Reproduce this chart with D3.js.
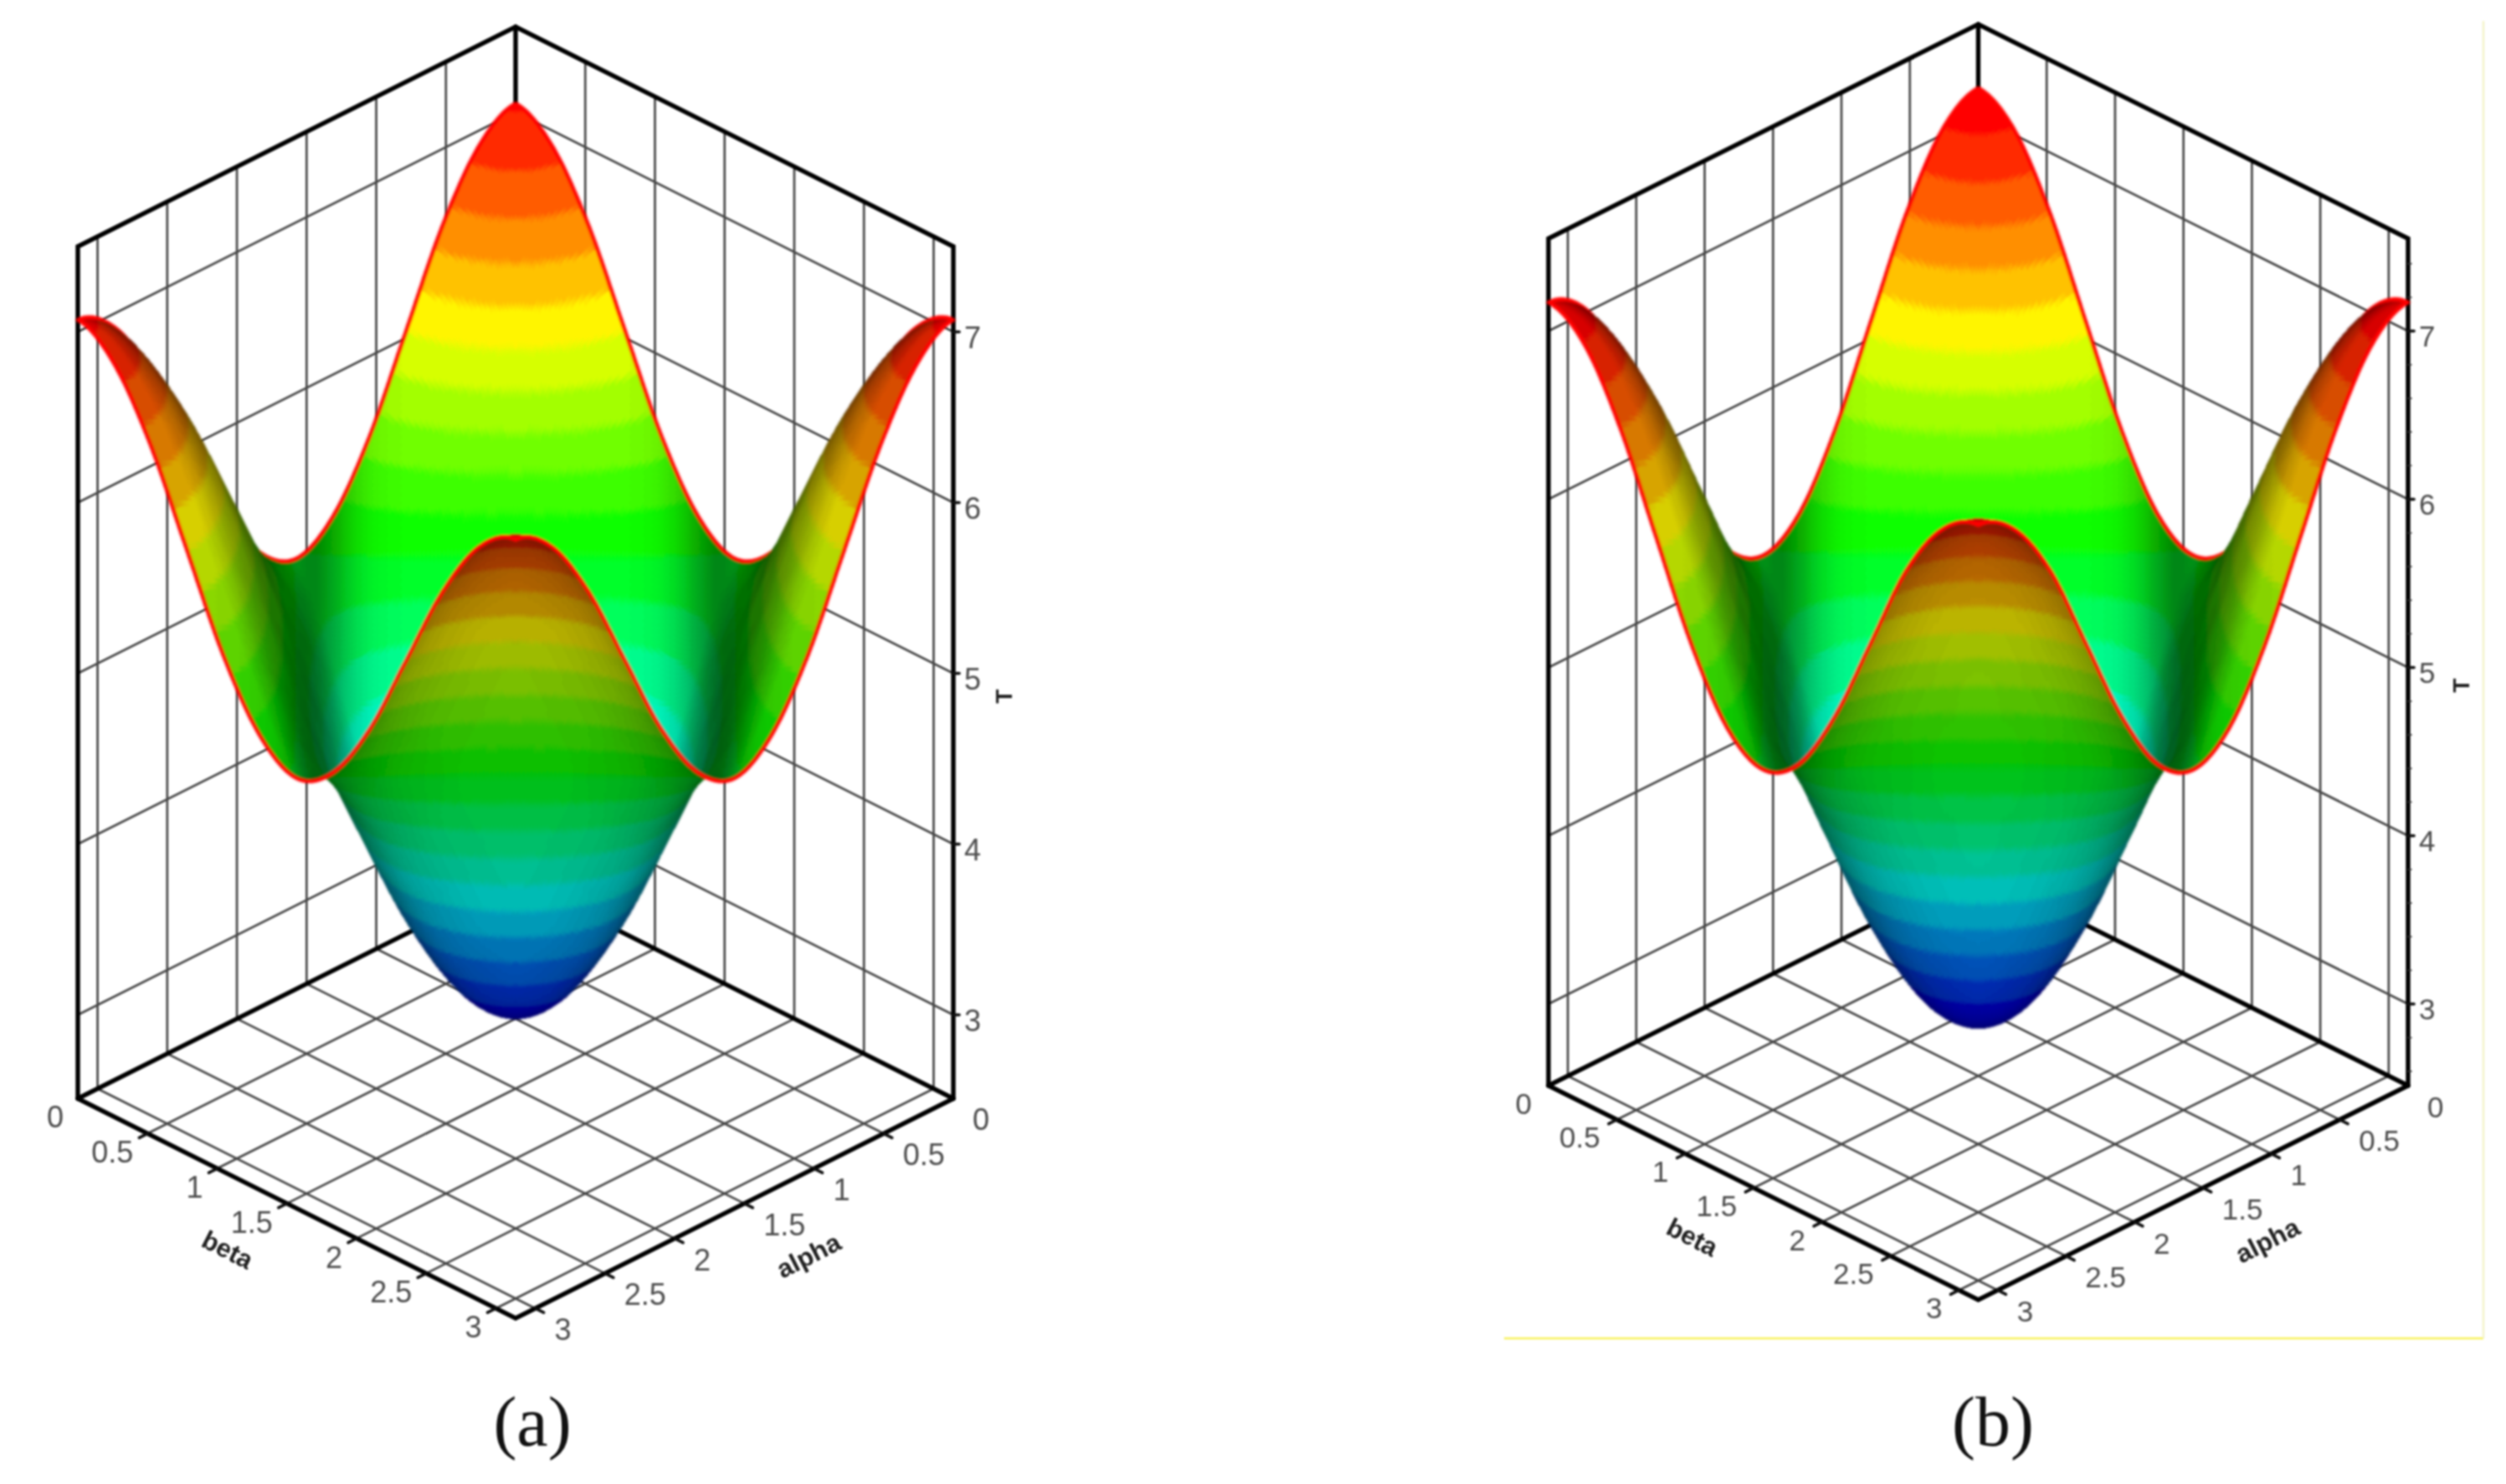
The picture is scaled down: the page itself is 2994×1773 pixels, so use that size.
<!DOCTYPE html>
<html><head><meta charset="utf-8">
<script src="https://cdn.jsdelivr.net/npm/d3@7"></script>
<style>
html,body{margin:0;padding:0;background:#fff;}
svg{display:block;filter:blur(1.1px);}
text{font-family:"Liberation Sans",Arial,sans-serif;}
</style></head><body>
<script>
// T(alpha, beta), on a 13 x 13 lattice with steps of pi/12
const tGridA = [
[7.05,6.91,6.55,6.04,5.53,5.17,5.03,5.17,5.53,6.04,6.55,6.92,7.07],
[6.91,6.77,6.41,5.90,5.39,5.03,4.89,5.03,5.39,5.90,6.41,6.77,6.92],
[6.55,6.41,6.05,5.54,5.03,4.67,4.53,4.67,5.03,5.54,6.05,6.41,6.55],
[6.04,5.90,5.54,5.03,4.52,4.16,4.02,4.16,4.52,5.03,5.54,5.90,6.04],
[5.53,5.39,5.03,4.52,4.01,3.65,3.51,3.65,4.01,4.52,5.03,5.39,5.53],
[5.17,5.03,4.67,4.16,3.65,3.29,3.15,3.29,3.65,4.16,4.67,5.03,5.17],
[5.03,4.89,4.53,4.02,3.51,3.15,3.01,3.15,3.51,4.02,4.53,4.89,5.03],
[5.17,5.03,4.67,4.16,3.65,3.29,3.15,3.29,3.65,4.16,4.67,5.03,5.17],
[5.53,5.39,5.03,4.52,4.01,3.65,3.51,3.65,4.01,4.52,5.03,5.39,5.53],
[6.04,5.90,5.54,5.03,4.52,4.16,4.02,4.16,4.52,5.03,5.54,5.90,6.04],
[6.55,6.41,6.05,5.54,5.03,4.67,4.53,4.67,5.03,5.54,6.05,6.41,6.55],
[6.92,6.77,6.41,5.90,5.39,5.03,4.89,5.03,5.39,5.90,6.41,6.77,6.92],
[7.07,6.92,6.55,6.04,5.53,5.17,5.03,5.17,5.53,6.04,6.55,6.92,7.07]];
const tGridB = [
[7.17,7.03,6.64,6.10,5.56,5.17,5.03,5.17,5.56,6.10,6.64,7.03,7.17],
[7.03,6.89,6.50,5.96,5.42,5.03,4.89,5.03,5.42,5.96,6.50,6.89,7.03],
[6.64,6.50,6.11,5.57,5.03,4.64,4.50,4.64,5.03,5.57,6.11,6.50,6.64],
[6.10,5.96,5.57,5.03,4.49,4.10,3.96,4.10,4.49,5.03,5.57,5.96,6.10],
[5.56,5.42,5.03,4.49,3.95,3.56,3.42,3.56,3.95,4.49,5.03,5.42,5.56],
[5.17,5.03,4.64,4.10,3.56,3.17,3.03,3.17,3.56,4.10,4.64,5.03,5.17],
[5.03,4.89,4.50,3.96,3.42,3.03,2.89,3.03,3.42,3.96,4.50,4.89,5.03],
[5.17,5.03,4.64,4.10,3.56,3.17,3.03,3.17,3.56,4.10,4.64,5.03,5.17],
[5.56,5.42,5.03,4.49,3.95,3.56,3.42,3.56,3.95,4.49,5.03,5.42,5.56],
[6.10,5.96,5.57,5.03,4.49,4.10,3.96,4.10,4.49,5.03,5.57,5.96,6.10],
[6.64,6.50,6.11,5.57,5.03,4.64,4.50,4.64,5.03,5.57,6.11,6.50,6.64],
[7.03,6.89,6.50,5.96,5.42,5.03,4.89,5.03,5.42,5.96,6.50,6.87,6.99],
[7.17,7.03,6.64,6.10,5.56,5.17,5.03,5.17,5.56,6.10,6.64,6.99,7.12]];
const planeTicks = [0.5,1,1.5,2,2.5,3];
const planeLabels = ["0.5","1","1.5","2","2.5","3"];
const tTicks = [3,4,5,6,7];
const tMinorB = [2.6,2.8,3.2,3.4,3.6,3.8,4.2,4.4,4.6,4.8,5.2,5.4,5.6,5.8,6.2,6.4,6.6,6.8,7.2,7.4];
const colourStops = [3.1,4.1,5.1,6.1,7.1];
const colourNames = ["#0000ff","#00ffff","#00ff00","#ffff00","#ff0000"];
const bandStart = 3.04, bandStep = 0.2;
const PI = Math.PI;

const panelA = {grid:tGridA,left:93,right:1139,backY:1050,frontY:1575,tFloor:2.51,tTop:7.5,unit:204,
  caption:"(a)",capX:636,
  betaLab:[272,1493],alphaLab:[966,1500],tLab:[1199,832],minor:[],lab:{bdx:-17,bdy:22,adx:23,ady:25,size:36}};
const panelB = {grid:tGridB,left:1850,right:2877,backY:1041,frontY:1553,tFloor:2.515,tTop:7.55,unit:201,
  caption:"(b)",capX:2381,
  betaLab:[2022,1478],alphaLab:[2709,1482],tLab:[2940,819],minor:tMinorB,lab:{bdx:-20,bdy:21,adx:23,ady:25,size:35}};

const svg = d3.select("body").append("svg").attr("width",2994).attr("height",1773)
  .attr("viewBox","0 0 2994 1773");
svg.append("rect").attr("width",2994).attr("height",1773).attr("fill","#fff");
svg.append("defs").append("filter").attr("id","soft")
  .attr("filterUnits","userSpaceOnUse").attr("x",0).attr("y",0).attr("width",2994).attr("height",1773)
  .append("feGaussianBlur").attr("stdDeviation",1.2);

const colourScale = d3.scaleLinear().domain(colourStops).range(colourNames).clamp(true);
const bandColour = new Map();
function baseColour(b){
  if(!bandColour.has(b)) bandColour.set(b,d3.rgb(colourScale(bandStart+(b+0.5)*bandStep)));
  return bandColour.get(b);
}
const clamp01=v=>v<0?0:(v>1?1:v);
const smooth=(a,b,v)=>{const t=clamp01((v-a)/(b-a));return t*t*(3-2*t);};

// Catmull-Rom resampling of the lattice, used only for a smooth drawing of the surface
function cr(p0,p1,p2,p3,u){
  return 0.5*((2*p1)+(-p0+p2)*u+(2*p0-5*p1+4*p2-p3)*u*u+(-p0+3*p1-3*p2+p3)*u*u*u);
}
function sampler(g){
  const m=g.length-1;
  const mir=k=>k<0?-k:(k>m?2*m-k:k);
  return (a,b)=>{
    const fa=a/PI*m, fb=b/PI*m;
    const ia=Math.min(m-1,Math.floor(fa)), ib=Math.min(m-1,Math.floor(fb));
    const ua=fa-ia, ub=fb-ib, r=[];
    for(let k=-1;k<=2;k++){
      const row=g[mir(ia+k)];
      r.push(cr(row[mir(ib-1)],row[mir(ib)],row[mir(ib+1)],row[mir(ib+2)],ub));
    }
    return cr(r[0],r[1],r[2],r[3],ua);
  };
}

function drawPanel(P){
  const g = svg.append("g");
  const sx = d3.scaleLinear().domain([-PI,PI]).range([P.left,P.right]);
  const sy = d3.scaleLinear().domain([0,2*PI]).range([P.backY,P.frontY]);
  const sz = d3.scaleLinear().domain([P.tFloor,P.tTop]).range([0,-(P.tTop-P.tFloor)*P.unit]);
  const pr = (a,b,t)=>[sx(b-a), sy(a+b)+sz(t)];
  const line = d3.line();
  const addLine=(sel,pts,cls)=>sel.append("path").attr("d",line(pts)).attr("fill","none")
     .attr("stroke",cls.c).attr("stroke-width",cls.w).attr("stroke-linecap","round").attr("stroke-linejoin","miter");
  const grid={c:"#484848",w:2.7}, thick={c:"#000",w:5.4}, tick={c:"#111",w:3.6};
  const T0=P.tFloor,T1=P.tTop;

  // floor and wall grid lines
  planeTicks.forEach(v=>{
    addLine(g,[pr(v,0,T0),pr(v,PI,T0)],grid);
    addLine(g,[pr(0,v,T0),pr(PI,v,T0)],grid);
    addLine(g,[pr(v,0,T0),pr(v,0,T1)],grid);
    addLine(g,[pr(0,v,T0),pr(0,v,T1)],grid);
  });
  tTicks.forEach(t=>{
    addLine(g,[pr(PI,0,t),pr(0,0,t),pr(0,PI,t)],grid);
  });
  // back frame
  addLine(g,[pr(PI,0,T0),pr(0,0,T0),pr(0,PI,T0)],thick);
  addLine(g,[pr(0,0,T0),pr(0,0,T1)],thick);
  addLine(g,[pr(PI,0,T0),pr(PI,0,T1),pr(0,0,T1),pr(0,PI,T1),pr(0,PI,T0)],thick);

  // surface
  const N=220, h=PI/N, f=sampler(P.grid), Tv=[];
  for(let i=0;i<=N;i++){ const r=new Float64Array(N+1); for(let j=0;j<=N;j++) r[j]=f(i*h,j*h); Tv.push(r); }
  const pts=[]; for(let i=0;i<=N;i++){ const r=[]; for(let j=0;j<=N;j++) r.push(pr(i*h,j*h,Tv[i][j])); pts.push(r); }
  const vx=0.612, vz=0.5, Q=64, MIX=4;
  const surf=g.append("g").attr("shape-rendering","crispEdges").attr("filter","url(#soft)");
  const mk = d3.pathRound?()=>d3.pathRound(1):()=>d3.path();
  const rimQueue=[];
  const rimPath=d=>surf.append("path").attr("d",d).attr("fill","none").attr("stroke","#f00")
     .attr("stroke-width",4.6).attr("stroke-linecap","round").attr("shape-rendering","auto");
  for(let s=0;s<=2*N-2;s++){
    const buckets=new Map();
    const iLo=Math.max(0,s-N+1), iHi=Math.min(s,N-1);
    const rim=mk(); let hasRim=false;
    for(let i=iLo;i<=iHi;i++){
      const j=s-i;
      const t00=Tv[i][j],t10=Tv[i+1][j],t01=Tv[i][j+1],t11=Tv[i+1][j+1];
      const tm=(t00+t10+t01+t11)/4;
      const ta=(t10+t11-t00-t01)/(2*h), tb=(t01+t11-t00-t10)/(2*h);
      const nv=(-ta*vx-tb*vx+vz)/Math.sqrt(ta*ta+tb*tb+1);
      const a=(i+0.5)*h,b=(j+0.5)*h,u=Math.abs(a-b);
      let shade;
      if(nv>=0){
        const s2=Math.min(1,0.6+0.85*nv);
        const w=(u-1.52)/0.34;
        const inner=(1-0.5*Math.exp(-w*w))*s2;
        const outer=Math.min(0.84,0.36+0.85*nv)*(1-0.15*Math.exp(-w*w));
        const k=smooth(1.4,1.8,u);
        shade=inner*(1-k)+outer*k;
      } else {
        shade=0.35+0.62*(-nv);
      }
      const q=Math.round(shade*Q);
      // band with its neighbour mixed in where a cell straddles an edge, so edges stay even
      const lo=Math.min(t00,t10,t01,t11), hi=Math.max(t00,t10,t01,t11);
      const pos=(tm-bandStart)/bandStep, band=Math.floor(pos), frac=pos-band;
      const soft=Math.max((hi-lo)/bandStep,0.03);
      let m=0, other=band;
      if(frac<soft/2){ other=band-1; m=Math.round((0.5-frac/soft)*MIX); }
      else if(1-frac<soft/2){ other=band+1; m=Math.round((0.5-(1-frac)/soft)*MIX); }
      const key=(band+50)*100000+(other-band+1)*10000+m*1000+q;
      if(!buckets.has(key)) buckets.set(key,{band,other,m,q,path:mk()});
      const p=buckets.get(key).path;
      const A=pts[i][j],B=pts[i+1][j],C=pts[i+1][j+1],D=pts[i][j+1];
      p.moveTo(A[0],A[1]);p.lineTo(B[0],B[1]);p.lineTo(C[0],C[1]);p.lineTo(D[0],D[1]);p.closePath();
      if(i===N-1){rim.moveTo(B[0],B[1]);rim.lineTo(C[0],C[1]);hasRim=true;}
      if(j===N-1){rim.moveTo(C[0],C[1]);rim.lineTo(D[0],D[1]);hasRim=true;}
      if(i===0){rim.moveTo(A[0],A[1]);rim.lineTo(D[0],D[1]);hasRim=true;}
      if(j===0){rim.moveTo(A[0],A[1]);rim.lineTo(B[0],B[1]);hasRim=true;}
    }
    buckets.forEach(o=>{
      const c=baseColour(o.band), c2=baseColour(o.other), mx=o.m/MIX, k=o.q/Q;
      const R=(c.r*(1-mx)+c2.r*mx)*k, G=(c.g*(1-mx)+c2.g*mx)*k, B=(c.b*(1-mx)+c2.b*mx)*k;
      surf.append("path").attr("d",o.path.toString())
        .attr("fill",`rgb(${Math.round(R)},${Math.round(G)},${Math.round(B)})`);
    });
    if(hasRim) rimQueue.push(rim.toString());
    if(rimQueue.length>3) rimPath(rimQueue.shift());
  }
  rimQueue.forEach(rimPath);

  // front axes
  addLine(g,[pr(PI,0,T0),pr(PI,PI,T0),pr(0,PI,T0)],thick);
  const L=P.lab;
  const txt=(x,y,s,anchor)=>g.append("text").attr("x",x).attr("y",y).text(s)
    .attr("text-anchor",anchor).attr("font-size",L.size).attr("fill","#4d4d4d");
  const base=L.size*0.36;
  const p0=pr(PI,0,T0), q0=pr(0,PI,T0);
  txt(p0[0]+L.bdx,p0[1]+L.bdy+base,"0","end");
  txt(q0[0]+L.adx,q0[1]+L.ady+base,"0","start");
  planeTicks.forEach((v,idx)=>{
    const pb=pr(PI,v,T0), pa=pr(v,PI,T0);
    addLine(g,[pb,pr(PI+0.06,v,T0)],tick);
    addLine(g,[pa,pr(v,PI+0.06,T0)],tick);
    txt(pb[0]+L.bdx,pb[1]+L.bdy+base,planeLabels[idx],"end");
    txt(pa[0]+L.adx,pa[1]+L.ady+base,planeLabels[idx],"start");
  });
  // T axis on the right corner
  tTicks.forEach(t=>{
    const p=pr(0,PI,t);
    addLine(g,[p,[p[0]+7,p[1]]],tick);
    txt(p[0]+13,p[1]+6+base,String(t),"start");
  });
  P.minor.forEach(t=>{
    const p=pr(0,PI,t);
    addLine(g,[p,[p[0]+4,p[1]]],{c:"#333",w:1.6});
  });
  const lab=(pos,s,rot,size)=>g.append("text").attr("transform",`translate(${pos[0]},${pos[1]}) rotate(${rot})`)
    .attr("text-anchor","middle").attr("dy","0.35em").attr("font-weight","bold")
    .attr("font-size",size).attr("fill","#222").text(s);
  lab(P.betaLab,"beta",27,31);
  lab(P.alphaLab,"alpha",-27,31);
  lab(P.tLab,"T",-90,28);
  // caption
  g.append("text").attr("x",P.capX).attr("y",1727).attr("text-anchor","middle")
    .style("font-family",'"Liberation Serif","Times New Roman",serif').attr("font-size",84)
    .attr("fill","#111").text(P.caption);
}
drawPanel(panelA);
drawPanel(panelB);

// thin pale frame around panel (b)
svg.append("path").attr("d",d3.line()([[1797,1599],[2967,1599]])).attr("fill","none").attr("stroke","#f7f25c").attr("stroke-width",2.4);
svg.append("path").attr("d",d3.line()([[2967,25],[2967,1599]])).attr("fill","none").attr("stroke","#f3f3c8").attr("stroke-width",2.4);
</script>
</body></html>
